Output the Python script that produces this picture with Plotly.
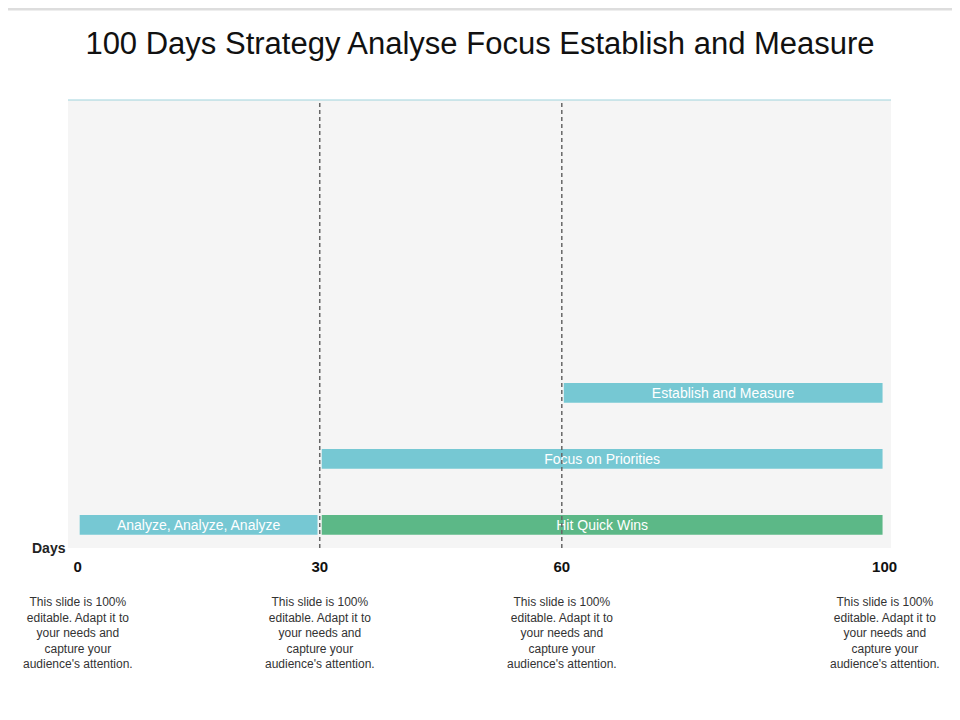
import plotly.graph_objects as go

tasks = ["Analyze, Analyze, Analyze", "Hit Quick Wins", "Focus on Priorities", "Establish and Measure"]
starts = [0, 30, 30, 60]
ends = [30, 100, 100, 100]
rows = [0, 0, 1, 2]
colors = ["#76c8d3", "#5cb887", "#76c8d3", "#76c8d3"]
tick_days = [0, 30, 60, 100]
note = "This slide is 100%<br>editable. Adapt it to<br>your needs and<br>capture your<br>audience's attention."

fig = go.Figure()
fig.add_trace(go.Bar(
    y=rows, x=[e - s for s, e in zip(starts, ends)], base=starts, orientation="h",
    marker=dict(color=colors, line=dict(color="#f5f5f5", width=4)), width=0.36,
    text=tasks, textposition="inside", insidetextanchor="middle",
    textfont=dict(color="white", size=14, family="Liberation Sans"), hoverinfo="skip"))

for d in [30, 60]:
    fig.add_shape(type="line", x0=d, x1=d, y0=0, y1=1, yref="paper",
                  line=dict(color="#666", width=1.5, dash="4px,3px"))
fig.add_shape(type="line", x0=0, x1=1, xref="paper", y0=1, y1=1, yref="paper",
              line=dict(color="#9fd3dc", width=1))
fig.add_shape(type="rect", x0=-0.1, x1=1.1, xref="paper", y0=1.2, y1=1.24, yref="paper",
              fillcolor="#dddddd", line_width=0)

for d in tick_days:
    fig.add_annotation(x=d, y=-0.1, yref="paper", text=note, showarrow=False, yanchor="top",
                       font=dict(size=12, color="#333", family="Liberation Sans"))
fig.add_annotation(x=0, y=0, xref="paper", yref="paper", text="<b>Days</b>", showarrow=False,
                   xanchor="right", yanchor="middle", font=dict(size=14, color="#222"))

fig.update_layout(
    width=944, height=704, margin=dict(l=60, r=61, t=92, b=164),
    title=dict(text="100 Days Strategy Analyse Focus Establish and Measure", x=0.5, y=0.965,
               font=dict(size=31, color="#111", family="Liberation Sans")),
    paper_bgcolor="white", plot_bgcolor="#f5f5f5", showlegend=False,
    xaxis=dict(range=[-1.2, 100.8], tickvals=tick_days, showgrid=False, zeroline=False,
               tickfont=dict(size=15, color="#111", family="Liberation Sans", weight="bold"),
               ticklabelstandoff=8),
    yaxis=dict(range=[-0.35, 6.44], visible=False),
    font=dict(family="Liberation Sans"))
fig.write_html("out.html")
